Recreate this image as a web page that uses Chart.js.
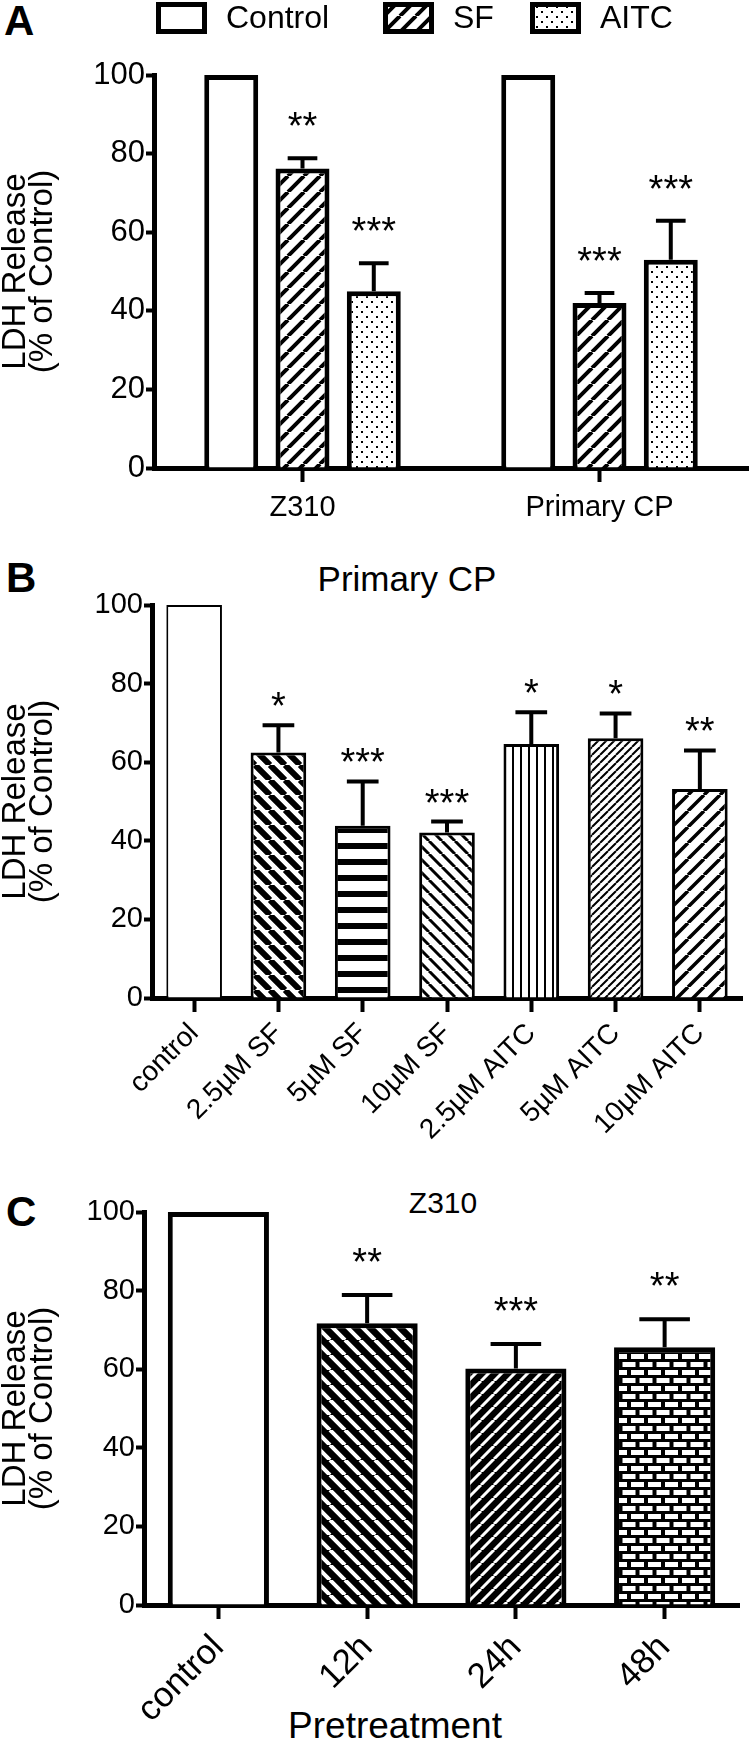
<!DOCTYPE html>
<html>
<head>
<meta charset="utf-8">
<script src="https://cdn.jsdelivr.net/npm/chart.js@4.4.0/dist/chart.umd.min.js"></script>
<style>
  body { margin: 0; background: #fff; }
  #page { position: relative; width: 750px; height: 1745px; overflow: hidden;
          font-family: 'Liberation Sans', Arial, Helvetica, sans-serif; color: #000; }
  canvas { position: absolute; left: 0; }
  .txt { position: absolute; white-space: nowrap; line-height: 1; }
  .panel { font-weight: bold; font-size: 42px; }
  .center { transform: translateX(-50%); }
</style>
</head>
<body>
<div id="page">
  <div class="txt panel" style="left:4px; top:0px">A</div>
  <div class="txt panel" style="left:6px; top:557px">B</div>
  <div class="txt panel" style="left:6px; top:1191px">C</div>
  <div class="txt center" style="left:407px; top:561px; font-size:35px">Primary CP</div>
  <div class="txt center" style="left:443px; top:1188px; font-size:30px">Z310</div>
  <div class="txt center" style="left:395px; top:1707px; font-size:37px">Pretreatment</div>
  <canvas id="chartA" width="750" height="560" style="top:0px"></canvas>
  <canvas id="chartB" width="750" height="593" style="top:555px"></canvas>
  <canvas id="chartC" width="750" height="585" style="top:1160px"></canvas>
</div>
<script>
// ---- data: panel A (grouped by cell type) ----
const groupsA = ['Z310', 'Primary CP'];
const controlA = [100, 100];
const sfA = [76.2, 42.0];
const sfErrA = [2.6, 2.5];
const sfStarsA = ['**', '***'];
const aitcA = [45.0, 53.0];
const aitcErrA = [7.1, 9.9];
const aitcStarsA = ['***', '***'];

// ---- data: panel B (Primary CP, dose) ----
const treatmentsB = ['control', '2.5µM SF', '5µM SF', '10µM SF', '2.5µM AITC', '5µM AITC', '10µM AITC'];
const ldhB = [100, 62.5, 43.8, 42.1, 64.6, 66.1, 53.2];
const errB = [0, 6.9, 11.3, 2.8, 8.1, 6.3, 9.8];
const starsB = ['', '*', '***', '***', '*', '*', '**'];

// ---- data: panel C (Z310, pretreatment time) ----
const timesC = ['control', '12h', '24h', '48h'];
const ldhC = [100, 71.7, 60.2, 65.6];
const errC = [0, 7.2, 6.2, 7.1];
const starsC = ['', '**', '***', '**'];

const yTicks = [0, 20, 40, 60, 80, 100];

const FONT = "'Liberation Sans', Arial, Helvetica, sans-serif";
Chart.defaults.font.family = FONT;
Chart.defaults.color = '#000';
Chart.defaults.animation = false;
Chart.defaults.events = [];

// ---- fill patterns ----
function makePattern(w, h, draw) {
    const c = document.createElement('canvas');
    c.width = w;
    c.height = h;
    const g = c.getContext('2d');
    draw(g, w, h);
    return g.createPattern(c, 'repeat');
}

function stripes(dir, p, lw, fg, bg) {
    return makePattern(p, p, (g) => {
        g.fillStyle = bg;
        g.fillRect(0, 0, p, p);
        g.strokeStyle = fg;
        g.lineWidth = lw;
        g.beginPath();
        for (let k = -1; k <= 1; k++) {
            if (dir === '/') { g.moveTo(k * p, p); g.lineTo(k * p + p, 0); }
            else { g.moveTo(k * p, 0); g.lineTo(k * p + p, p); }
        }
        g.stroke();
    });
}

function hLines(p, lw) {
    return makePattern(4, p, (g, w) => {
        g.fillStyle = '#fff'; g.fillRect(0, 0, w, p);
        g.fillStyle = '#000'; g.fillRect(0, 0, w, lw);
    });
}

function vLines(p, lw) {
    return makePattern(p, 4, (g, w, h) => {
        g.fillStyle = '#fff'; g.fillRect(0, 0, p, h);
        g.fillStyle = '#000'; g.fillRect(0, 0, lw, h);
    });
}

const dots = makePattern(10, 10, (g) => {
    g.fillStyle = '#fff'; g.fillRect(0, 0, 10, 10);
    g.fillStyle = '#000';
    g.fillRect(1, 1, 2, 2);
    g.fillRect(6, 6, 2, 2);
});

const bricks = makePattern(17, 16, (g) => {
    g.fillStyle = '#000'; g.fillRect(0, 0, 17, 16);
    g.fillStyle = '#fff';
    g.fillRect(2, 2, 13, 5);
    g.fillRect(-6.5, 10, 13, 5);
    g.fillRect(10.5, 10, 13, 5);
});

// ---- plugins ----
// upper error whiskers and significance stars
const errorBars = {
    id: 'errorBars',
    afterDatasetsDraw(chart, args, o) {
        const ctx = chart.ctx;
        const yScale = chart.scales.y;
        chart.data.datasets.forEach((ds, di) => {
            const meta = chart.getDatasetMeta(di);
            meta.data.forEach((bar, i) => {
                const err = ds.errors ? ds.errors[i] : 0;
                let capY = bar.y;
                ctx.save();
                if (err) {
                    capY = yScale.getPixelForValue(ds.data[i] + err);
                    const half = bar.width * o.capRatio / 2;
                    ctx.strokeStyle = '#000';
                    ctx.lineWidth = o.lineWidth;
                    ctx.beginPath();
                    ctx.moveTo(bar.x, bar.y);
                    ctx.lineTo(bar.x, capY);
                    ctx.moveTo(bar.x - half, capY);
                    ctx.lineTo(bar.x + half, capY);
                    ctx.stroke();
                }
                const sig = ds.stars ? ds.stars[i] : '';
                if (sig) {
                    ctx.font = o.starSize + 'px ' + FONT;
                    ctx.fillStyle = '#000';
                    ctx.textAlign = 'center';
                    ctx.textBaseline = 'alphabetic';
                    const m = ctx.measureText(sig);
                    ctx.fillText(sig, bar.x, capY - o.starGap - m.actualBoundingBoxDescent);
                }
                ctx.restore();
            });
        });
    }
};

// legend with the pattern swatches, laid out in one row
const patternLegend = {
    id: 'patternLegend',
    afterDraw(chart, args, o) {
        if (!o.display) return;
        const ctx = chart.ctx;
        chart.data.datasets.forEach((ds, i) => {
            const x = o.boxX[i];
            ctx.save();
            ctx.fillStyle = ds.backgroundColor;
            ctx.fillRect(x, o.boxY, o.boxW, o.boxH);
            ctx.strokeStyle = '#000';
            ctx.lineWidth = o.borderWidth;
            const b = o.borderWidth / 2;
            ctx.strokeRect(x + b, o.boxY + b, o.boxW - 2 * b, o.boxH - 2 * b);
            ctx.font = o.fontSize + 'px ' + FONT;
            ctx.fillStyle = '#000';
            ctx.textBaseline = 'middle';
            ctx.fillText(ds.label, x + o.boxW + o.gap, o.boxY + o.boxH / 2 + 1);
            ctx.restore();
        });
    }
};

// ---- shared axis builders ----
function yAxis(width, fontSize) {
    return {
        min: 0,
        max: 100,
        afterBuildTicks(scale) { scale.ticks = yTicks.map(v => ({ value: v })); },
        ticks: { font: { size: fontSize }, padding: 1, color: '#000' },
        grid: { drawOnChartArea: false, tickLength: 8, tickWidth: 4, tickColor: '#000' },
        border: { display: true, width: 5, color: '#000' },
        title: {
            display: true,
            text: ['LDH Release', '(% of Control)'],
            font: { size: 33, lineHeight: 0.8 },
            padding: { top: 3, bottom: 0 },
            color: '#000'
        },
        afterFit(scale) { scale.width = width; }
    };
}

function xAxis(height, fontSize, rotation, pad) {
    return {
        ticks: { font: { size: fontSize }, padding: pad, autoSkip: false,
                 maxRotation: rotation, minRotation: rotation, color: '#000' },
        grid: { offset: false, drawOnChartArea: false, tickLength: 14, tickWidth: 4, tickColor: '#000' },
        border: { display: true, width: 5, color: '#000' },
        afterFit(scale) { scale.height = height; }
    };
}

// ---- panel A ----
new Chart(document.getElementById('chartA').getContext('2d'), {
    type: 'bar',
    data: {
        labels: groupsA,
        datasets: [
            { label: 'Control', data: controlA, backgroundColor: '#fff' },
            { label: 'SF', data: sfA, errors: sfErrA, stars: sfStarsA,
              backgroundColor: stripes('/', 16, 4, '#000', '#fff') },
            { label: 'AITC', data: aitcA, errors: aitcErrA, stars: aitcStarsA, backgroundColor: dots }
        ]
    },
    options: {
        responsive: false,
        devicePixelRatio: 1,
        layout: { autoPadding: false, padding: { top: 75, left: 0, right: 2, bottom: 0 } },
        datasets: { bar: { borderColor: '#000', borderWidth: 5,
                           categoryPercentage: 0.72, barPercentage: 0.757 } },
        plugins: {
            legend: { display: false },
            tooltip: { enabled: false },
            errorBars: { lineWidth: 4, capRatio: 0.55, starSize: 38, starGap: 32 },
            patternLegend: { display: true, boxX: [156, 383, 530], boxY: 2, boxW: 51, boxH: 32,
                             borderWidth: 5, gap: 19, fontSize: 32 }
        },
        scales: {
            x: xAxis(92, 29, 0, 9),
            y: yAxis(154, 31)
        }
    },
    plugins: [errorBars, patternLegend]
});

// ---- panel B ----
new Chart(document.getElementById('chartB').getContext('2d'), {
    type: 'bar',
    data: {
        labels: treatmentsB,
        datasets: [{
            label: 'Primary CP',
            data: ldhB,
            errors: errB,
            stars: starsB,
            backgroundColor: [
                '#fff',
                stripes('\\', 15, 6, '#000', '#fff'),
                hLines(16, 6),
                stripes('\\', 13, 3, '#000', '#fff'),
                vLines(8, 2),
                stripes('/', 8, 2, '#000', '#fff'),
                stripes('/', 16, 3.5, '#000', '#fff')
            ],
            borderColor: '#000',
            borderWidth: [2, 3, 3, 3, 3, 3, 3]
        }]
    },
    options: {
        responsive: false,
        devicePixelRatio: 1,
        layout: { autoPadding: false, padding: { top: 50, left: 0, right: 8, bottom: 0 } },
        datasets: { bar: { categoryPercentage: 1, barPercentage: 0.66 } },
        plugins: {
            legend: { display: false },
            tooltip: { enabled: false },
            errorBars: { lineWidth: 4, capRatio: 0.57, starSize: 38, starGap: 19 },
            patternLegend: { display: false }
        },
        scales: {
            x: xAxis(150, 28, 45, 5),
            y: yAxis(152, 29)
        }
    },
    plugins: [errorBars, patternLegend]
});

// ---- panel C ----
new Chart(document.getElementById('chartC').getContext('2d'), {
    type: 'bar',
    data: {
        labels: timesC,
        datasets: [{
            label: 'Z310',
            data: ldhC,
            errors: errC,
            stars: starsC,
            backgroundColor: [
                '#fff',
                stripes('\\', 15, 4, '#fff', '#000'),
                stripes('/', 13, 3, '#fff', '#000'),
                bricks
            ],
            borderColor: '#000',
            borderWidth: 5
        }]
    },
    options: {
        responsive: false,
        devicePixelRatio: 1,
        layout: { autoPadding: false, padding: { top: 52, left: 0, right: 11, bottom: 0 } },
        datasets: { bar: { categoryPercentage: 1, barPercentage: 0.68 } },
        plugins: {
            legend: { display: false },
            tooltip: { enabled: false },
            errorBars: { lineWidth: 4, capRatio: 0.5, starSize: 38, starGap: 33 },
            patternLegend: { display: false }
        },
        scales: {
            x: xAxis(140, 35, 45, 8),
            y: yAxis(144, 29)
        }
    },
    plugins: [errorBars, patternLegend]
});
</script>
</body>
</html>
